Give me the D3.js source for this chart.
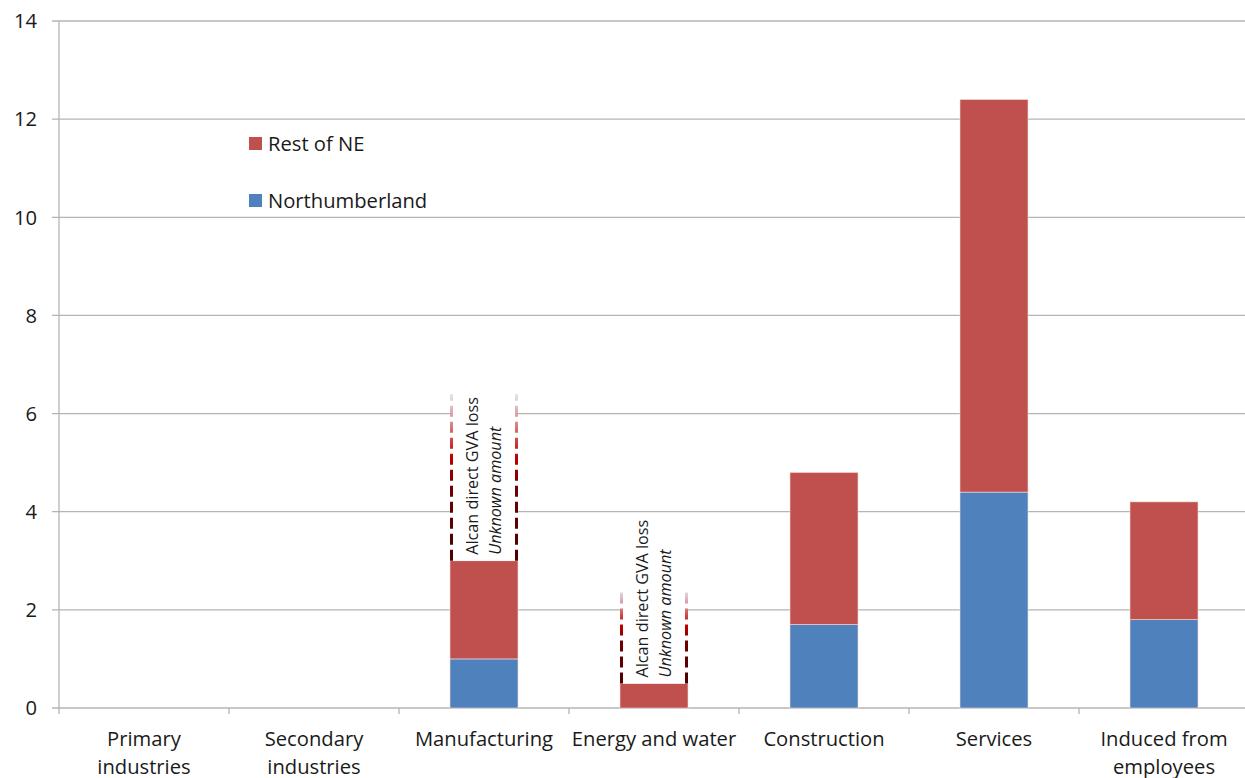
<!DOCTYPE html>
<html><head><meta charset="utf-8">
<script src="https://cdn.jsdelivr.net/npm/d3@7"></script>
<style>body{margin:0;background:#fff}svg{display:block}text{font-family:"Open Sans",Lato,sans-serif;fill:#1a1a1a}</style>
</head><body><svg id="c" width="1245" height="778"></svg>
<script>
const categories = [["Primary","industries"],["Secondary","industries"],["Manufacturing"],["Energy and water"],["Construction"],["Services"],["Induced from","employees"]];
const northumberland = [0, 0, 1.0, 0, 1.7, 4.4, 1.8];
const restOfNE = [0, 0, 2.0, 0.5, 3.1, 8.0, 2.4];
const yTicks = [0,2,4,6,8,10,12,14];
const seriesNames = ["Northumberland","Rest of NE"];
const colors = ["#4F81BD","#C0504D"];
// annotation: unknown Alcan loss range (category index, top value of dashed bracket)
const annotCats = [2, 3];
const annotTop = [6.4, 2.4];
const annotLines = ["Alcan direct GVA loss","Unknown amount"];

const svg = d3.select("#c");
const m = {l:59, t:21, r:1249, b:708};
const x = d3.scaleBand().domain(d3.range(categories.length)).range([m.l, m.r]).paddingInner(0).paddingOuter(0);
const y = d3.scaleLinear().domain([0,14]).range([m.b, m.t]);
const bw = x.bandwidth()*0.4;
const fs = 20.2;

// gridlines
svg.append("g").selectAll("line").data(yTicks).join("line")
  .attr("x1", m.l-7).attr("x2", 1245).attr("y1", d=>y(d)).attr("y2", d=>y(d))
  .attr("stroke","#b4b4b4").attr("stroke-width",1.3);
// y labels
svg.append("g").selectAll("text").data(yTicks).join("text")
  .attr("x", 37).attr("y", d=>y(d)).attr("dy","0.36em").attr("text-anchor","end")
  .attr("font-size",fs).text(d=>d);
// y axis line
svg.append("line").attr("x1",m.l).attr("x2",m.l).attr("y1",m.t).attr("y2",m.b+6).attr("stroke","#b4b4b4").attr("stroke-width",1.3);
// x ticks
svg.append("g").selectAll("line").data(d3.range(1,categories.length)).join("line")
  .attr("x1", d=>x(d)).attr("x2", d=>x(d)).attr("y1", m.b).attr("y2", m.b+6)
  .attr("stroke","#b4b4b4").attr("stroke-width",1.3);

// stacked bars
const stackData = categories.map((c,i)=>({i, n:northumberland[i], r:restOfNE[i]}));
const stack = d3.stack().keys(["n","r"])(stackData);
svg.append("g").selectAll("g").data(stack).join("g").attr("fill",(d,k)=>colors[k])
  .selectAll("rect").data(d=>d.filter(p=>p[1]-p[0]>0)).join("rect")
  .attr("x", d=>x(d.data.i)+(x.bandwidth()-bw)/2).attr("width", bw)
  .attr("y", d=>y(d[1])).attr("height", d=>y(d[0])-y(d[1]))
  .attr("stroke","#f3dede").attr("stroke-width",0.6);

// annotations
const defs = svg.append("defs");
annotCats.forEach((ci,k)=>{
  const base = northumberland[ci]+restOfNE[ci];
  const x0 = x(ci)+(x.bandwidth()-bw)/2, x1 = x0+bw;
  const yb = y(base), yt = y(annotTop[k]);
  const gid = "g"+k;
  const g = defs.append("linearGradient").attr("id",gid).attr("gradientUnits","userSpaceOnUse")
    .attr("x1",0).attr("x2",0).attr("y1",yb).attr("y2",yt);
  [[0,"#4a0000"],[0.45,"#700000"],[0.62,"#c00000"],[0.82,"#d98585"],[1,"#e4e4f4"]].forEach(s=>
    g.append("stop").attr("offset",s[0]).attr("stop-color",s[1]));
  svg.append("rect").attr("x",x0+2).attr("y",yt).attr("width",bw-4).attr("height",yb-yt).attr("fill","#fff");
  [x0+1.5, x1-1.5].forEach(xx=>svg.append("line").attr("x1",xx).attr("x2",xx).attr("y1",yb).attr("y2",yt)
    .attr("stroke",`url(#${gid})`).attr("stroke-width",3).attr("stroke-dasharray","11,5"));
  const cx = x0+bw/2;
  const t = svg.append("text").attr("transform",`translate(${cx},${yb-6}) rotate(-90)`).attr("font-size",16.2);
  t.append("tspan").attr("x",0).attr("y",-6).text(annotLines[0]);
  t.append("tspan").attr("x",0).attr("y",17).attr("font-style","italic").text(annotLines[1]);
});

// x labels
const xl = svg.append("g").selectAll("text").data(categories).join("text")
  .attr("x",(d,i)=>x(i)+x.bandwidth()/2).attr("y",746).attr("text-anchor","middle").attr("font-size",fs);
xl.selectAll("tspan").data(d=>d).join("tspan").attr("x",function(){return this.parentNode.getAttribute("x");})
  .attr("dy",(d,j)=>j?28:0).text(d=>d);

// legend
const leg = [{name:seriesNames[1],c:colors[1],y:144},{name:seriesNames[0],c:colors[0],y:201}];
const lg = svg.append("g").selectAll("g").data(leg).join("g");
lg.append("rect").attr("x",249).attr("y",d=>d.y-7).attr("width",13).attr("height",13).attr("fill",d=>d.c);
lg.append("text").attr("x",268).attr("y",d=>d.y).attr("dy","0.36em").attr("font-size",fs).text(d=>d.name);
</script></body></html>
